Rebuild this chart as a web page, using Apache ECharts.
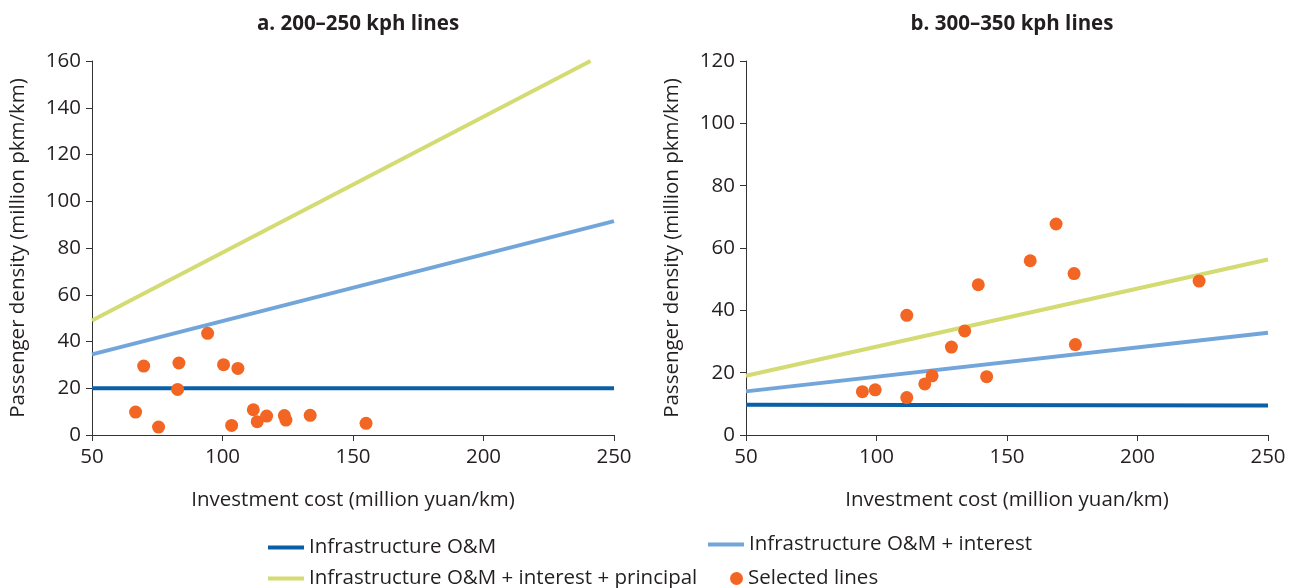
<!DOCTYPE html>
<html>
<head>
<meta charset="utf-8">
<script src="https://cdn.jsdelivr.net/npm/echarts@6/dist/echarts.min.js"></script>
<style>
  html, body { margin: 0; padding: 0; background: #fff; }
  #chart { width: 1290px; height: 588px; }
</style>
</head>
<body>
<div id="chart"></div>
<script>
// panel a: 200-250 kph lines
const omA = [[50, 20], [250, 20]];
const omIntA = [[50, 34.5], [250, 91.5]];
const omIntPrinA = [[50, 49], [241, 160]];
const selectedA = [
  [66.7, 9.8], [69.8, 29.5], [75.5, 3.4], [83.3, 30.8], [82.8, 19.5],
  [94.3, 43.5], [100.4, 30.1], [105.9, 28.5], [103.5, 4.1], [111.8, 10.8],
  [113.3, 5.7], [116.9, 8.1], [123.7, 8.3], [124.3, 6.4], [133.6, 8.4],
  [155.0, 5.0]
];

// panel b: 300-350 kph lines
const omB = [[50, 9.7], [250, 9.5]];
const omIntB = [[50, 14.0], [250, 32.8]];
const omIntPrinB = [[50, 19.0], [250, 56.3]];
const selectedB = [
  [94.6, 13.9], [99.5, 14.5], [111.6, 12.0], [111.6, 38.4], [118.5, 16.4],
  [121.3, 19.0], [128.7, 28.2], [133.8, 33.4], [139.0, 48.2], [142.2, 18.7],
  [158.9, 55.9], [168.8, 67.7], [175.7, 51.8], [176.2, 29.0], [223.6, 49.4]
];

const titles = ['a. 200–250 kph lines', 'b. 300–350 kph lines'];
const xName = 'Investment cost (million yuan/km)';
const yName = 'Passenger density (million pkm/km)';
const names = ['Infrastructure O&M', 'Infrastructure O&M + interest',
  'Infrastructure O&M + interest + principal', 'Selected lines'];

const FONT = 'Open Sans';
const FS = 20.5;
const TXT = '#231f20';
const C_OM = '#0a5fa6';
const C_INT = '#72a6da';
const C_PRIN = '#d3db72';
const C_DOT = '#f26522';

const chart = echarts.init(document.getElementById('chart'));

const xAxisOf = (gi) => ({
  type: 'value', gridIndex: gi, min: 50, max: 250, interval: 50,
  name: xName, nameLocation: 'middle', nameGap: 55,
  nameTextStyle: { fontFamily: FONT, fontSize: FS, color: TXT },
  axisLine: { lineStyle: { color: '#333', width: 1 } },
  axisTick: { length: 6, lineStyle: { color: '#333' } },
  axisLabel: { fontFamily: FONT, fontSize: FS, color: TXT, margin: 12 },
  splitLine: { show: false }
});

const yAxisOf = (gi, max) => ({
  type: 'value', gridIndex: gi, min: 0, max: max, interval: 20,
  name: yName, nameLocation: 'middle', nameGap: 63,
  nameTextStyle: { fontFamily: FONT, fontSize: FS, color: TXT },
  axisLine: { show: true, lineStyle: { color: '#333', width: 1 } },
  axisTick: { show: true, length: 6, lineStyle: { color: '#333' } },
  axisLabel: { fontFamily: FONT, fontSize: FS, color: TXT, margin: 11 },
  splitLine: { show: false }
});

const lineSeries = (name, data, color, gi) => ({
  name: name, type: 'line', xAxisIndex: gi, yAxisIndex: gi,
  data: data, showSymbol: false, silent: true,
  lineStyle: { color: color, width: 4 }, itemStyle: { color: color }, z: 2
});

const dotSeries = (data, gi) => ({
  name: names[3], type: 'scatter', xAxisIndex: gi, yAxisIndex: gi,
  data: data, symbolSize: 13, itemStyle: { color: C_DOT, opacity: 1 }, z: 3
});

const legendOf = (name, left, top, icon, w, h) => ({
  data: [name], left: left, top: top, icon: icon,
  itemWidth: w, itemHeight: h, itemGap: 0,
  textStyle: { fontFamily: FONT, fontSize: FS, color: TXT }
});

chart.setOption({
  animation: false,
  title: [
    { text: titles[0], left: 353, top: 9, textAlign: 'center',
      textStyle: { fontFamily: FONT, fontSize: 20.5, fontWeight: 'bold', color: TXT } },
    { text: titles[1], left: 1007, top: 9, textAlign: 'center',
      textStyle: { fontFamily: FONT, fontSize: 20.5, fontWeight: 'bold', color: TXT } }
  ],
  legend: [
    legendOf(names[0], 263, 532, 'rect', 36, 4),
    legendOf(names[1], 703, 529, 'rect', 36, 4),
    legendOf(names[2], 263, 563, 'rect', 36, 4),
    legendOf(names[3], 725, 563, 'circle', 13, 13)
  ],
  grid: [
    { left: 92, top: 61, width: 522, height: 374 },
    { left: 746, top: 61, width: 522, height: 374 }
  ],
  xAxis: [xAxisOf(0), xAxisOf(1)],
  yAxis: [yAxisOf(0, 160), yAxisOf(1, 120)],
  series: [
    lineSeries(names[0], omA, C_OM, 0),
    lineSeries(names[1], omIntA, C_INT, 0),
    lineSeries(names[2], omIntPrinA, C_PRIN, 0),
    dotSeries(selectedA, 0),
    lineSeries(names[0], omB, C_OM, 1),
    lineSeries(names[1], omIntB, C_INT, 1),
    lineSeries(names[2], omIntPrinB, C_PRIN, 1),
    dotSeries(selectedB, 1)
  ]
});
</script>
</body>
</html>
